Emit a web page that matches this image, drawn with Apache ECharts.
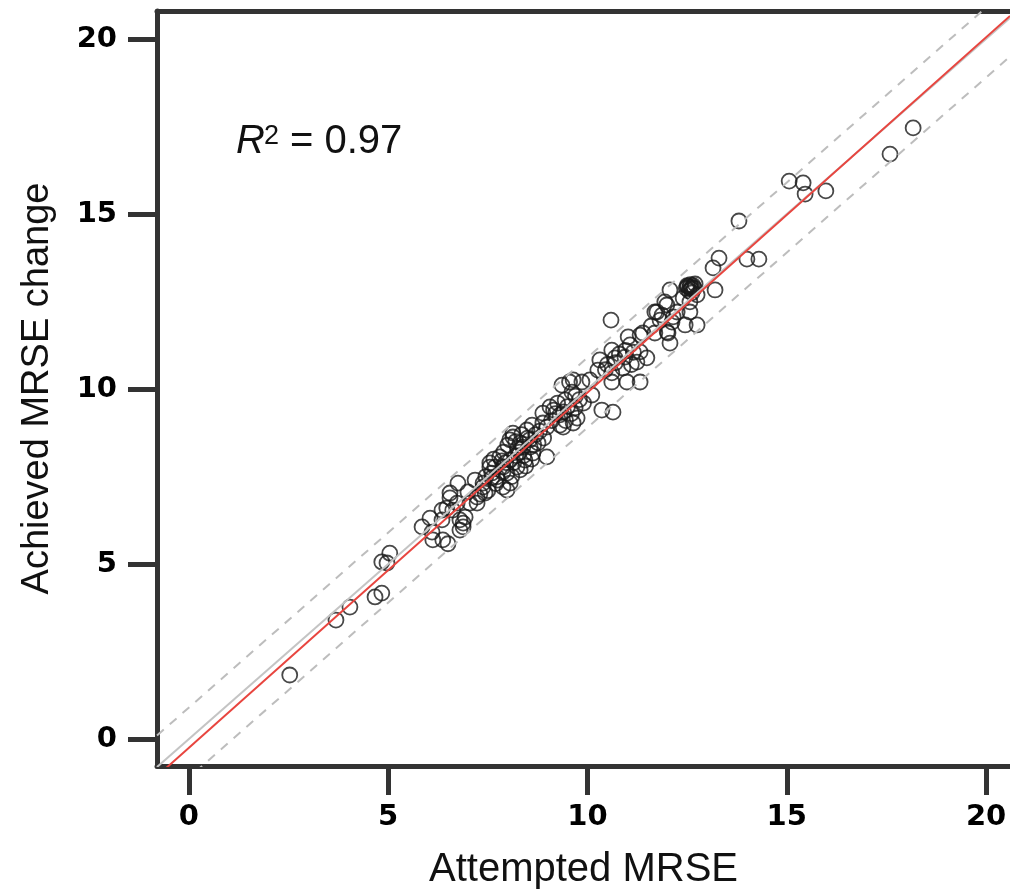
<!DOCTYPE html>
<html>
<head>
<meta charset="utf-8">
<script src="https://cdn.jsdelivr.net/npm/echarts@6/dist/echarts.min.js"></script>
<style>
html,body{margin:0;padding:0;background:#fff;}
#chart{width:1010px;height:896px;}
</style>
</head>
<body>
<div id="chart"></div>
<script>
// ---- data ----
const xTicks = [0, 5, 10, 15, 20];
const yTicks = [0, 5, 10, 15, 20];
const xRange = [-0.8, 20.6];
const yRange = [-0.77, 20.8];
const xName = 'Attempted MRSE';
const yName = 'Achieved MRSE change';
const r2Label = ['R', '2', '= 0.97'];
// [intercept, slope]
const fitCoef = [-0.25, 1.015];
const identityCoef = [0, 1];
const upperBandCoef = [0.9, 1];
const lowerBandCoef = [-1.1, 1];

const pointsLow = [[2.53,1.83],[3.69,3.40],[4.04,3.77],[4.67,4.06],[4.84,4.17],[4.84,5.06],[5.04,5.31],[4.97,5.03]];
const pointsA = [[5.85,6.06],[6.05,6.31],[6.12,5.69],[6.50,5.58],[6.35,6.54],[6.47,6.60],[6.10,5.91],[6.35,6.26],[6.75,7.31],[6.88,6.17],[6.93,6.34],[6.55,7.03],[6.62,6.54],[6.73,6.74],[6.80,6.26],[6.88,6.06],[6.80,5.97],[6.37,5.69],[6.55,6.89],[7.00,7.06],[7.05,6.74]];
const pointsB = [[7.18,7.40],[7.23,6.91],[7.23,6.74],[7.38,7.20],[7.43,7.03],[7.38,7.31],[7.55,7.89],[7.55,7.77],[7.60,7.46],[7.68,7.77],[7.73,7.49],[7.80,8.06],[7.88,7.63],[7.88,7.77],[7.88,7.20],[7.98,7.60],[7.98,7.11],[7.95,7.90],[7.70,7.30],[7.50,7.10],[7.90,8.20],[7.60,7.60],[7.75,7.40],[7.45,7.50],[7.30,7.00],[7.85,7.95],[7.65,8.00]];
const pointsC = [[8.06,7.97],[8.06,7.31],[8.13,8.74],[8.13,8.63],[8.23,7.77],[8.31,8.46],[8.31,7.69],[8.38,8.34],[8.43,7.97],[8.48,8.83],[8.56,8.34],[8.61,8.97],[8.63,8.17],[8.76,8.46],[8.98,8.06],[8.98,8.91],[8.88,9.31],[8.88,9.03],[8.20,8.10],[8.50,8.60],[8.70,8.70],[8.30,8.20],[8.00,8.40],[8.45,7.80],[8.90,8.60],[8.10,7.50],[8.20,8.50],[8.35,8.70],[8.55,8.55],[8.65,8.40],[8.40,8.10],[8.15,7.90],[8.60,8.00],[8.25,8.30],[8.80,8.80],[8.05,8.55]];
const pointsD = [[9.06,9.49],[9.31,9.26],[9.31,8.97],[9.36,10.11],[9.39,8.91],[9.44,9.69],[9.61,9.91],[9.64,10.26],[9.64,9.03],[9.69,9.46],[9.74,9.17],[9.86,10.20],[10.06,10.26],[10.11,9.83],[10.36,9.40],[10.64,9.34],[9.20,9.30],[9.50,9.50],[9.80,9.70],[9.55,10.20],[9.10,9.10],[9.90,9.60],[9.15,9.40],[9.40,9.35],[9.45,9.10],[9.70,9.80],[9.25,9.60],[9.60,9.30]];
const pointsE = [[10.26,10.54],[10.31,10.83],[10.61,10.46],[10.61,10.20],[10.61,11.11],[10.69,10.89],[10.89,10.60],[10.94,10.91],[10.99,10.20],[11.02,11.49],[11.07,11.26],[11.24,10.77],[11.32,11.54],[11.32,11.06],[11.32,10.20],[11.49,10.89],[10.59,11.97],[10.80,11.00],[11.10,10.70],[10.50,10.70],[10.70,10.75],[10.95,11.10],[11.15,11.05],[10.45,10.55]];
const pointsF = [[11.39,11.60],[11.69,11.60],[11.69,12.20],[11.74,12.20],[11.82,11.97],[11.87,12.11],[11.94,12.49],[11.99,12.40],[12.00,11.63],[12.02,11.60],[12.07,11.31],[12.07,12.83],[12.12,11.91],[12.15,12.06],[12.25,12.20],[12.45,11.83],[12.57,12.91],[12.57,12.20],[12.57,12.49],[12.75,12.69],[12.75,11.83],[12.50,12.95],[12.60,12.85],[12.65,12.95],[12.55,12.80],[12.70,13.00],[12.62,12.75],[12.48,12.88],[13.15,13.46],[13.30,13.74],[13.20,12.83],[14.00,13.71],[14.30,13.71],[12.52,12.93],[12.62,12.90],[12.58,12.98],[12.68,12.88],[12.40,12.60],[11.60,11.80]];
const pointsHigh = [[13.80,14.80],[15.06,15.94],[15.41,15.89],[15.46,15.57],[15.98,15.66],[17.59,16.71],[18.17,17.46]];

const allPoints = [].concat(pointsLow, pointsA, pointsB, pointsC, pointsD, pointsE, pointsF, pointsHigh);

function lineData(coef) {
  return [[xRange[0], coef[0] + coef[1] * xRange[0]], [xRange[1], coef[0] + coef[1] * xRange[1]]];
}

const axisColor = '#333333';
const tickFont = { fontFamily: 'DejaVu Sans', fontWeight: 'bold', fontSize: 29, color: '#000' };

const chart = echarts.init(document.getElementById('chart'), null, { renderer: 'canvas' });
chart.setOption({
  animation: false,
  backgroundColor: '#ffffff',
  grid: { left: 157, right: 0, top: 11, bottom: 130, containLabel: false },
  xAxis: [{
    type: 'value', min: xRange[0], max: xRange[1],
    name: xName, nameLocation: 'middle', nameGap: 84,
    nameTextStyle: { fontFamily: 'Liberation Sans', fontSize: 40, color: '#111' },
    axisLine: { show: true, onZero: false, lineStyle: { color: axisColor, width: 5 } },
    axisTick: { show: true, inside: false, length: 29, customValues: xTicks, lineStyle: { color: axisColor, width: 5 } },
    axisLabel: Object.assign({ margin: 37, customValues: xTicks }, tickFont),
    splitLine: { show: false }
  }, {
    type: 'value', position: 'top', min: xRange[0], max: xRange[1],
    axisLine: { show: true, onZero: false, lineStyle: { color: axisColor, width: 5 } },
    axisTick: { show: false }, axisLabel: { show: false }, splitLine: { show: false }
  }],
  yAxis: {
    type: 'value', min: yRange[0], max: yRange[1],
    name: yName, nameLocation: 'middle', nameGap: 100, nameRotate: 90,
    nameTextStyle: { fontFamily: 'Liberation Sans', fontSize: 38, color: '#111' },
    axisLine: { show: true, onZero: false, lineStyle: { color: axisColor, width: 5 } },
    axisTick: { show: true, inside: false, length: 29, customValues: yTicks, lineStyle: { color: axisColor, width: 5 } },
    axisLabel: Object.assign({ margin: 40, customValues: yTicks }, tickFont),
    splitLine: { show: false }
  },
  series: [
    {
      type: 'scatter', data: allPoints, symbol: 'circle', symbolSize: 15, z: 2,
      itemStyle: { color: 'rgba(0,0,0,0)', borderColor: '#1a1a1a', borderWidth: 1.8 },
      emphasis: { disabled: true }, silent: true
    },
    { type: 'line', data: lineData(upperBandCoef), symbol: 'none', z: 3, silent: true,
      lineStyle: { color: '#bdbdbd', width: 2, type: [9, 8] } },
    { type: 'line', data: lineData(lowerBandCoef), symbol: 'none', z: 3, silent: true,
      lineStyle: { color: '#bdbdbd', width: 2, type: [9, 8] } },
    { type: 'line', data: lineData(identityCoef), symbol: 'none', z: 3, silent: true,
      lineStyle: { color: '#c4c4c4', width: 2 } },
    { type: 'line', data: lineData(fitCoef), symbol: 'none', z: 4, silent: true,
      lineStyle: { color: '#e8453f', width: 2 } }
  ],
  graphic: [
    { type: 'text', x: 236, y: 142, style: { text: r2Label[0], fontFamily: 'Liberation Sans', fontStyle: 'italic', fontSize: 40, fill: '#111', verticalAlign: 'middle' } },
    { type: 'text', x: 264, y: 137, style: { text: r2Label[1], fontFamily: 'Liberation Sans', fontSize: 27, fill: '#111', verticalAlign: 'middle' } },
    { type: 'text', x: 290, y: 142, style: { text: r2Label[2], fontFamily: 'Liberation Sans', fontSize: 40, fill: '#111', verticalAlign: 'middle' } }
  ]
});
</script>
</body>
</html>
